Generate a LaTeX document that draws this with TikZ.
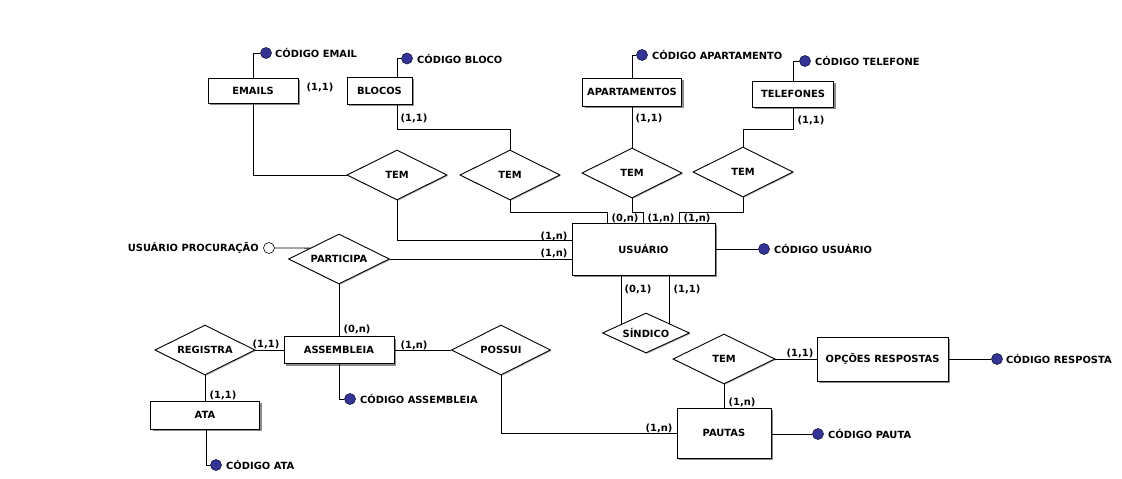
\documentclass[tikz,border=0pt]{standalone}
\usepackage{fontspec}
\setmainfont{DejaVu Sans}
\usetikzlibrary{shapes.geometric,shadows,calc}
\definecolor{attrblue}{RGB}{52,52,150}
\newcommand{\lbl}{\bfseries\fontsize{9.9}{11}\selectfont}
\tikzset{
  conn/.style={line width=0.9pt},
  ent/.style={draw, fill=white, line width=0.9pt, inner sep=0pt, font=\lbl,
    drop shadow={shadow xshift=2pt, shadow yshift=-2pt, fill=black!45, opacity=1}},
  rel/.style={diamond, draw, fill=white, line width=0.9pt, inner sep=0pt, aspect=2, font=\lbl,
    drop shadow={shadow xshift=1pt, shadow yshift=-1pt, fill=black!30, opacity=1}},
  card/.style={font=\lbl, inner sep=0pt},
  attr/.style={circle, draw=black!60!attrblue, fill=attrblue, minimum size=11pt, inner sep=0pt, line width=0.6pt},
  attro/.style={circle, draw=black, fill=white, minimum size=11pt, inner sep=0pt, line width=0.6pt},
  attrtxt/.style={font=\lbl, inner sep=0pt, anchor=west},
}
\begin{document}
\begin{tikzpicture}[x=1pt, y=-1pt]
\useasboundingbox[fill=white] (0,0) rectangle (1122,479);

% entities
\node[ent, minimum width=90pt, minimum height=25pt] (EMAILS) at (253,90.5) {EMAILS};
\node[ent, minimum width=65pt, minimum height=27pt] (BLOCOS) at (379.5,90.5) {BLOCOS};
\node[ent, minimum width=99pt, minimum height=28pt] (APART) at (632,92) {APARTAMENTOS};
\node[ent, minimum width=81pt, minimum height=26pt] (TELEF) at (793,94) {TELEFONES};
\node[ent, minimum width=143pt, minimum height=52pt] (USUARIO) at (643.5,249) {USUÁRIO};
\node[ent, minimum width=110pt, minimum height=27pt] (ASSEMB) at (339,350) {ASSEMBLEIA};
\node[ent, minimum width=109pt, minimum height=28pt] (ATA) at (205,415) {ATA};
\node[ent, minimum width=94pt, minimum height=50pt] (PAUTAS) at (724,433) {PAUTAS};
\node[ent, minimum width=131pt, minimum height=44pt] (OPCOES) at (882.5,359) {OPÇÕES RESPOSTAS};

% relationships
\node[rel, minimum width=100pt, minimum height=50pt] (TEM1) at (397,175) {TEM};
\node[rel, minimum width=100pt, minimum height=50pt] (TEM2) at (510,175) {TEM};
\node[rel, minimum width=100pt, minimum height=50pt] (TEM3) at (632,173) {TEM};
\node[rel, minimum width=100pt, minimum height=50pt] (TEM4) at (743,172) {TEM};
\node[rel, minimum width=101pt, minimum height=50pt] (PARTIC) at (339,259) {PARTICIPA};
\node[rel, minimum width=100pt, minimum height=50pt] (REGISTRA) at (205,350) {REGISTRA};
\node[rel, minimum width=99pt, minimum height=50pt] (POSSUI) at (501,350) {POSSUI};
\node[rel, minimum width=87pt, minimum height=40pt] (SINDICO) at (646,333) {SÍNDICO};
\node[rel, minimum width=102pt, minimum height=50pt] (TEM5) at (724,359) {TEM};

% attributes
\node[attr] (aEMAIL) at (266,53) {};
\node[attrtxt] (tEMAIL) at (275,53) {CÓDIGO EMAIL};
\node[attr] (aBLOCO) at (407,58.5) {};
\node[attrtxt] (tBLOCO) at (417,58.5) {CÓDIGO BLOCO};
\node[attr] (aAPART) at (642,55) {};
\node[attrtxt] (tAPART) at (652,55) {CÓDIGO APARTAMENTO};
\node[attr] (aTELEF) at (805,61) {};
\node[attrtxt] (tTELEF) at (815,61) {CÓDIGO TELEFONE};
\node[attr] (aUSU) at (764,249) {};
\node[attrtxt] (tUSU) at (774,249) {CÓDIGO USUÁRIO};
\node[attr] (aASS) at (350,399) {};
\node[attrtxt] (tASS) at (360,399) {CÓDIGO ASSEMBLEIA};
\node[attr] (aATA) at (216,465) {};
\node[attrtxt] (tATA) at (226,465) {CÓDIGO ATA};
\node[attr] (aPAUTA) at (818,434) {};
\node[attrtxt] (tPAUTA) at (828,434) {CÓDIGO PAUTA};
\node[attr] (aRESP) at (997,359) {};
\node[attrtxt] (tRESP) at (1006,359) {CÓDIGO RESPOSTA};
\node[attro] (aPROC) at (269,248) {};
\node[font=\lbl, inner sep=0pt, anchor=east] (tPROC) at (259,248) {USUÁRIO PROCURAÇÃO};

% junction coordinates
\coordinate (j2) at (607,212);
\coordinate (j3) at (643,212);
\coordinate (j4) at (679,212);
\coordinate (s1) at (621,324.5);
\coordinate (s2) at (669,323.6);
\coordinate (pp) at ($(PARTIC.west)!0.43!(PARTIC.north)$);

% connectors
\draw[conn] (EMAILS.north) |- (aEMAIL.west);
\draw[conn] ([xshift=17.5pt]BLOCOS.north) |- (aBLOCO.west);
\draw[conn] (APART.north) |- (aAPART.west);
\draw[conn] (TELEF.north) |- (aTELEF.west);
\draw[conn] (USUARIO.east |- aUSU) -- (aUSU.west);
\draw[conn] (ASSEMB.south) |- (aASS.west);
\draw[conn] ([xshift=1pt]ATA.south) |- (aATA.west);
\draw[conn] (PAUTAS.east |- aPAUTA) -- (aPAUTA.west);
\draw[conn] (OPCOES.east) -- (aRESP.west);
\draw[conn] (aPROC.east) -- (pp);

\draw[conn] (EMAILS.south) |- (TEM1.west);
\draw[conn] ([xshift=17.5pt]BLOCOS.south) -- ++(0,25) -| (TEM2.north);
\draw[conn] (APART.south) -- (TEM3.north);
\draw[conn] (TELEF.south) -- ++(0,22) -| (TEM4.north);
\draw[conn] (TEM1.south) |- ([yshift=9pt]USUARIO.west);
\draw[conn] (PARTIC.east) -- (USUARIO.west |- PARTIC.east);
\draw[conn] (TEM2.south) |- (j2) -- (j2 |- USUARIO.north);
\draw[conn] (TEM3.south) |- (j3) -- (j3 |- USUARIO.north);
\draw[conn] (TEM4.south) |- (j4) -- (j4 |- USUARIO.north);
\draw[conn] (s1 |- USUARIO.south) -- (s1);
\draw[conn] (s2 |- USUARIO.south) -- (s2);
\draw[conn] (PARTIC.south) -- (ASSEMB.north);
\draw[conn] (REGISTRA.east) -- (ASSEMB.west);
\draw[conn] (ASSEMB.east) -- (POSSUI.west);
\draw[conn] (REGISTRA.south) -- (ATA.north);
\draw[conn] (POSSUI.south) |- (PAUTAS.west);
\draw[conn] (TEM5.south) -- (PAUTAS.north);
\draw[conn] (TEM5.east) -- (OPCOES.west);

% cardinalities
\node[card] (c1) at (320,87) {(1,1)};
\node[card] (c2) at (414,118) {(1,1)};
\node[card] (c3) at (649,118) {(1,1)};
\node[card] (c4) at (811,120) {(1,1)};
\node[card] (c5) at (554,236) {(1,n)};
\node[card] (c6) at (554,253) {(1,n)};
\node[card] (c7) at (625,218) {(0,n)};
\node[card] (c8) at (661,218) {(1,n)};
\node[card] (c9) at (697,218) {(1,n)};
\node[card] (c10) at (638,289) {(0,1)};
\node[card] (c11) at (687,289) {(1,1)};
\node[card] (c12) at (800,353) {(1,1)};
\node[card] (c13) at (742,402) {(1,n)};
\node[card] (c14) at (659,428) {(1,n)};
\node[card] (c15) at (357,329) {(0,n)};
\node[card] (c16) at (414,345) {(1,n)};
\node[card] (c17) at (266,344) {(1,1)};
\node[card] (c18) at (223,395) {(1,1)};
\end{tikzpicture}
\end{document}
